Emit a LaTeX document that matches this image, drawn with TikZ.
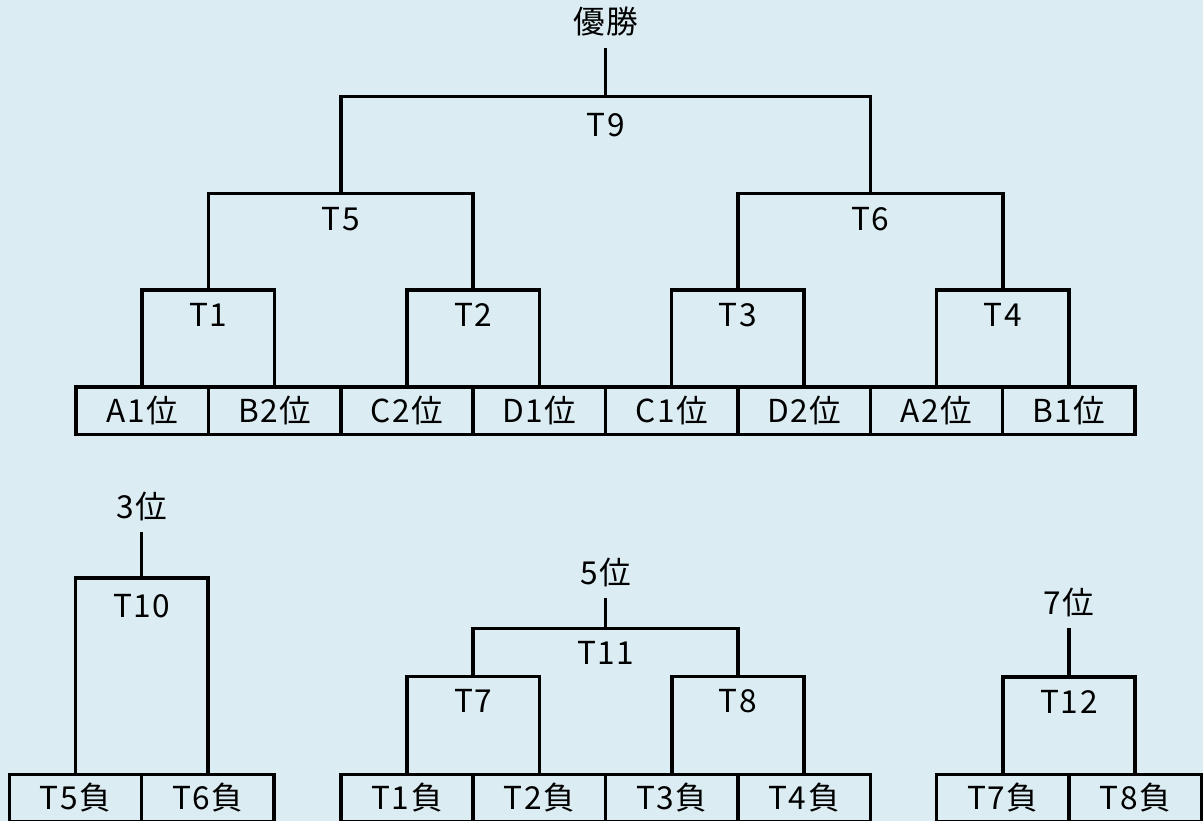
\documentclass[tikz,border=0pt]{standalone}
\usepackage{fontspec}
\setmainfont[LetterSpace=5]{Noto Sans CJK JP}
\usetikzlibrary{positioning}
\definecolor{bgblue}{RGB}{219,237,243}
\newcommand{\labelfont}{\fontsize{18}{21}\selectfont}
\tikzset{
  cell/.style={draw, line width=2pt, outer sep=0pt, minimum width=2.648cm, minimum height=0.95cm, inner sep=0pt, font=\labelfont},
  bracket/.style={line width=2pt},
  game/.style={inner sep=0pt, font=\labelfont},
  rank/.style={inner sep=0pt, font=\labelfont},
}
\begin{document}
\begin{tikzpicture}[x=0.02cm,y=-0.02cm]
  % background
  \fill[bgblue] (0,0) rectangle (1203,821);
  \useasboundingbox (0,0) rectangle (1203,821);

  % main bracket
  \node[cell] (a1) at (142.2,410.75) {A1位};
  \node[cell, right=0pt of a1] (b2) {B2位};
  \node[cell, right=0pt of b2] (c2) {C2位};
  \node[cell, right=0pt of c2] (d1) {D1位};
  \node[cell, right=0pt of d1] (c1) {C1位};
  \node[cell, right=0pt of c1] (d2) {D2位};
  \node[cell, right=0pt of d2] (a2) {A2位};
  \node[cell, right=0pt of a2] (b1) {B1位};

  \coordinate (m1) at (208.4,290);
  \coordinate (m2) at (473.2,290);
  \coordinate (m3) at (738,290);
  \coordinate (m4) at (1002.8,290);
  \coordinate (m5) at (340.8,193.5);
  \coordinate (m6) at (870.4,193.5);
  \coordinate (m9) at (605.6,96.5);
  \coordinate (win) at (605.6,48);

  \draw[bracket] (a1.north) |- (m1) -| (b2.north);
  \draw[bracket] (c2.north) |- (m2) -| (d1.north);
  \draw[bracket] (c1.north) |- (m3) -| (d2.north);
  \draw[bracket] (a2.north) |- (m4) -| (b1.north);
  \draw[bracket] (m1) |- (m5) -| (m2);
  \draw[bracket] (m3) |- (m6) -| (m4);
  \draw[bracket] (m5) |- (m9) -| (m6);
  \draw[bracket] (m9) -- (win);

  \node[game, below=0.25cm of m1] (g1) {T1};
  \node[game, below=0.25cm of m2] (g2) {T2};
  \node[game, below=0.25cm of m3] (g3) {T3};
  \node[game, below=0.25cm of m4] (g4) {T4};
  \node[game, below=0.27cm of m5] (g5) {T5};
  \node[game, below=0.27cm of m6] (g6) {T6};
  \node[game, below=0.33cm of m9] (g9) {T9};
  \node[rank, above=0.22cm of win] (champ) {優勝};

  % 3rd place
  \node[cell] (l5) at (75.5,798) {T5負};
  \node[cell, right=0pt of l5] (l6) {T6負};
  \coordinate (m10) at (141.7,578);
  \coordinate (r3) at (141.7,532);
  \draw[bracket] (l5.north) |- (m10) -| (l6.north);
  \draw[bracket] (m10) -- (r3);
  \node[game, below=0.31cm of m10] (g10) {T10};
  \node[rank, above=0.22cm of r3] (third) {3位};

  % 5th place
  \node[cell] (l1) at (407,798) {T1負};
  \node[cell, right=0pt of l1] (l2) {T2負};
  \node[cell, right=0pt of l2] (l3) {T3負};
  \node[cell, right=0pt of l3] (l4) {T4負};
  \coordinate (m7) at (473.2,676.5);
  \coordinate (m8) at (738,676.5);
  \coordinate (m11) at (605.6,628.5);
  \coordinate (r5) at (605.6,598);
  \draw[bracket] (l1.north) |- (m7) -| (l2.north);
  \draw[bracket] (l3.north) |- (m8) -| (l4.north);
  \draw[bracket] (m7) |- (m11) -| (m8);
  \draw[bracket] (m11) -- (r5);
  \node[game, below=0.25cm of m7] (g7) {T7};
  \node[game, below=0.25cm of m8] (g8) {T8};
  \node[game, below=0.25cm of m11] (g11) {T11};
  \node[rank, above=0.22cm of r5] (fifth) {5位};

  % 7th place
  \node[cell] (l7) at (1002.8,798) {T7負};
  \node[cell, right=0pt of l7] (l8) {T8負};
  \coordinate (m12) at (1069,677);
  \coordinate (r7) at (1069,628);
  \draw[bracket] (l7.north) |- (m12) -| (l8.north);
  \draw[bracket] (m12) -- (r7);
  \node[game, below=0.25cm of m12] (g12) {T12};
  \node[rank, above=0.22cm of r7] (seventh) {7位};
\end{tikzpicture}
\end{document}
